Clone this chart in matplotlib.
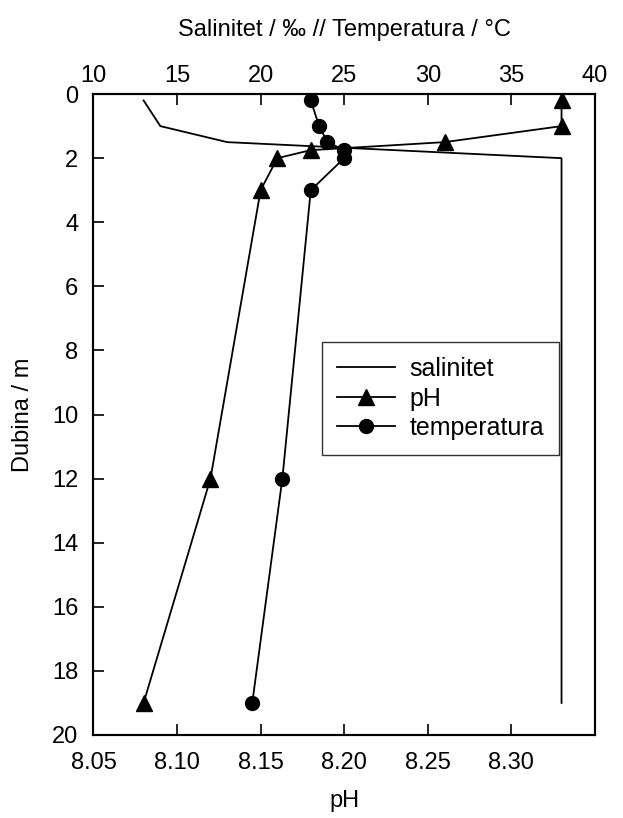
import matplotlib
matplotlib.use("Agg")
import matplotlib.pyplot as plt

plt.rcParams['font.family'] = ['Liberation Sans', 'DejaVu Sans']

# salinitet (gornja os)
dubina_sal = [0.2, 1, 1.5, 2, 19]
salinitet = [13, 14, 18, 38, 38]

# pH (donja os)
dubina_ph = [0.2, 1, 1.5, 1.75, 2, 3, 12, 19]
ph = [8.33, 8.33, 8.26, 8.18, 8.16, 8.15, 8.12, 8.08]

# temperatura (gornja os)
dubina_temp = [0.2, 1, 1.5, 1.75, 2, 3, 12, 19]
temperatura = [23, 23.5, 24, 25, 25, 23, 21.3, 19.5]

fig = plt.figure(figsize=(6.23, 8.18), dpi=100)
ax = fig.add_axes([0.150, 0.1015, 0.805, 0.7835])
ax2 = ax.twiny()

l2, = ax.plot(ph, dubina_ph, color='black', lw=1.3, marker='^', markersize=11, label='pH')
l1, = ax2.plot(salinitet, dubina_sal, color='black', lw=1.3, label='salinitet')
l3, = ax2.plot(temperatura, dubina_temp, color='black', lw=1.3, marker='o', markersize=10, label='temperatura')

ax.set_xlim(8.05, 8.35)
ax.set_ylim(20, 0)
ax2.set_xlim(10, 40)

ax.set_xticks([8.05, 8.10, 8.15, 8.20, 8.25, 8.30])
ax.set_xticklabels(['8.05', '8.10', '8.15', '8.20', '8.25', '8.30'])
ax.set_yticks(range(0, 21, 2))
ax2.set_xticks(range(10, 41, 5))

ax.tick_params(axis='x', direction='in', length=8, width=1.2, labelsize=17, pad=12)
ax.tick_params(axis='y', direction='in', length=8, width=1.2, labelsize=17, pad=11)
ax2.tick_params(axis='x', direction='in', length=8, width=1.2, labelsize=17, pad=5)

for a in (ax, ax2):
    for s in a.spines.values():
        s.set_linewidth(1.5)

ax.set_xlabel('pH', fontsize=17, labelpad=12)
ax.set_ylabel('Dubina / m', fontsize=17, labelpad=13)
ax2.set_xlabel('Salinitet / ‰ // Temperatura / °C', fontsize=17, labelpad=21)

leg = ax.legend(handles=[l1, l2, l3], loc='upper left', bbox_to_anchor=(0.456, 0.613),
                fontsize=18, frameon=True, fancybox=False, edgecolor='black',
                handlelength=2.3, borderpad=0.6, labelspacing=0.22, handletextpad=0.6,
                borderaxespad=0)
leg.get_frame().set_linewidth(1.0)

fig.savefig('out.png', dpi=100)
